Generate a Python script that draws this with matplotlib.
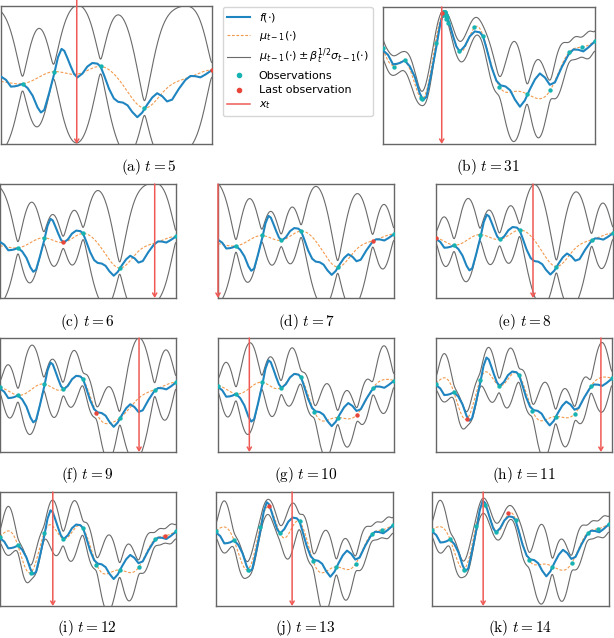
import numpy as np
import matplotlib
matplotlib.use("Agg")
import matplotlib.pyplot as plt
from matplotlib.lines import Line2D

# objective f (x in [0, 1])
f_x = [0.000, 0.024, 0.047, 0.065, 0.080, 0.102, 0.126, 0.150, 0.173, 0.189,
       0.205, 0.228, 0.252, 0.270, 0.287, 0.300, 0.315, 0.330, 0.346, 0.362,
       0.386, 0.409, 0.433, 0.457, 0.472, 0.488, 0.512, 0.535, 0.555, 0.578,
       0.600, 0.622, 0.646, 0.669, 0.693, 0.717, 0.740, 0.764, 0.787, 0.811,
       0.843, 0.874, 0.898, 0.921, 0.945, 0.969, 1.000]
f_y = [0.684, 0.650, 0.582, 0.585, 0.592, 0.610, 0.568, 0.490, 0.372, 0.320,
       0.345, 0.515, 0.712, 0.880, 0.965, 0.945, 0.870, 0.790, 0.712, 0.675,
       0.715, 0.785, 0.822, 0.815, 0.785, 0.700, 0.560, 0.462, 0.428, 0.420,
       0.392, 0.325, 0.272, 0.318, 0.400, 0.472, 0.515, 0.485, 0.432, 0.450,
       0.560, 0.650, 0.690, 0.688, 0.676, 0.705, 0.750]

# noisy observations in the order they were taken
obs_x = [0.102, 0.249, 0.472, 0.680, 1.000, 0.359, 0.879, 0.000, 0.548, 0.790,
         0.178, 0.937, 0.300, 0.430,
         0.050, 0.185, 0.291, 0.299, 0.307, 0.284, 0.288, 0.294, 0.286, 0.290,
         0.296, 0.282, 0.292, 0.287, 0.289, 0.293, 0.279]
obs_y = [0.612, 0.735, 0.788, 0.362, 0.752, 0.678, 0.673, 0.700, 0.418, 0.392,
         0.334, 0.705, 0.927, 0.855,
         0.560, 0.330, 0.964, 0.915, 0.883, 0.945, 0.960, 0.955, 0.958, 0.962,
         0.940, 0.940, 0.962, 0.965, 0.963, 0.958, 0.956]

labels = ["a", "b", "c", "d", "e", "f", "g", "h", "i", "j", "k"]
t_vals = [5, 31, 6, 7, 8, 9, 10, 11, 12, 13, 14]
x_next = [0.359, 0.277, 0.879, 0.000, 0.548, 0.790, 0.178, 0.937, 0.300, 0.430, 0.289]

# layout: axes box in pixels (left, right, top, bottom), y upper limit, caption centre
boxes = [(1, 212, 6, 144), (383, 595, 7, 144),
         (0, 176, 184, 298), (218, 394, 184, 298), (436, 613, 184, 298),
         (0, 176, 338, 452), (218, 394, 338, 452), (436, 612, 338, 452),
         (0, 176, 492, 606), (216, 393, 492, 606), (432, 609, 492, 606)]
y_tops = [1.40, 1.0, 1.39, 1.34, 1.32, 1.23, 1.20, 1.165, 1.15, 1.06, 1.045]
caps = [(149, 167), (488, 167), (87, 322), (306, 322), (524, 322),
        (87, 475), (306, 475), (524, 475), (87, 628), (305, 628), (520, 628)]
arrow_top = [1.05, 1.0, 1.0, 1.0, 1.0, 1.0, 1.0, 1.0, 1.0, 1.0, 1.0]

BLUE = "#1f85c0"
ORANGE = "#f39a4e"
GRAY = "#6a6a6a"
TEAL = "#17b3b3"
RED = "#e8463a"
RED_LINE = "#ef5a55"


def gp_posterior(xo, yo, xs, ls=0.068, s0=0.75, sn=0.075):
    xo = np.asarray(xo)
    yo = np.asarray(yo)
    m0 = yo.mean()
    K = s0 ** 2 * np.exp(-(xo[:, None] - xo[None, :]) ** 2 / (2 * ls ** 2))
    K += sn ** 2 * np.eye(len(xo))
    ks = s0 ** 2 * np.exp(-(xs[:, None] - xo[None, :]) ** 2 / (2 * ls ** 2))
    alpha = np.linalg.solve(K, yo - m0)
    mu = m0 + ks @ alpha
    v = np.linalg.solve(K, ks.T)
    var = s0 ** 2 - np.sum(ks * v.T, axis=1)
    return mu, np.sqrt(np.clip(var, 0, None))


W, H = 614, 638
fig = plt.figure(figsize=(W / 100, H / 100), dpi=100)
xs = np.linspace(0, 1, 500)

for i in range(len(labels)):
    l, r, top, bot = boxes[i]
    ax = fig.add_axes([l / W, 1 - bot / H, (r - l) / W, (bot - top) / H])
    t = t_vals[i]
    ox = obs_x[:t]
    oy = obs_y[:t]
    mu, sd = gp_posterior(ox, oy, xs)

    ax.plot(xs, mu + sd, color=GRAY, lw=0.8, zorder=1)
    ax.plot(xs, mu - sd, color=GRAY, lw=0.8, zorder=1)
    ax.plot(xs, mu, color=ORANGE, lw=0.8, ls=(0, (2.5, 1.5)), zorder=2)
    ax.plot(f_x, f_y, color=BLUE, lw=1.5, zorder=3)
    ax.scatter(ox[:-1], oy[:-1], s=10, color=TEAL, zorder=4, linewidths=0)
    ax.scatter(ox[-1:], oy[-1:], s=10, color=RED, zorder=5, linewidths=0)
    ax.annotate("", xy=(x_next[i], 0), xycoords=("data", "axes fraction"),
                xytext=(x_next[i], arrow_top[i]), textcoords=("data", "axes fraction"),
                arrowprops=dict(arrowstyle="->,head_length=0.25,head_width=0.15",
                                color=RED_LINE, lw=1.1, shrinkA=0, shrinkB=0),
                annotation_clip=False, zorder=6)

    ax.set_xlim(0, 1)
    ax.set_ylim(0, y_tops[i])
    ax.set_xticks([])
    ax.set_yticks([])
    for s in ax.spines.values():
        s.set_color("#666666")
        s.set_linewidth(1.0)

    cx, cy = caps[i]
    fig.text(cx / W, 1 - cy / H, r"$\mathrm{(%s)}\ t = %d$" % (labels[i], t),
             ha="center", va="center", fontsize=11, math_fontfamily="cm")

handles = [
    Line2D([], [], color=BLUE, lw=1.5),
    Line2D([], [], color=ORANGE, lw=0.8, ls=(0, (2.5, 1.5))),
    Line2D([], [], color=GRAY, lw=0.8),
    Line2D([], [], color=TEAL, marker="o", ls="", markersize=3),
    Line2D([], [], color=RED, marker="o", ls="", markersize=3),
    Line2D([], [], color=RED_LINE, lw=1.1),
]
names = [r"$f(\cdot)$", r"$\mu_{t-1}(\cdot)$",
         r"$\mu_{t-1}(\cdot) \pm \beta_t^{1/2}\sigma_{t-1}(\cdot)$",
         "Observations", "Last observation", r"$x_t$"]
fig.legend(handles, names, loc="upper left", bbox_to_anchor=(223 / W, 1 - 7 / H),
           borderaxespad=0, fontsize=8, labelspacing=0.38)

fig.savefig("out.png", dpi=100)
